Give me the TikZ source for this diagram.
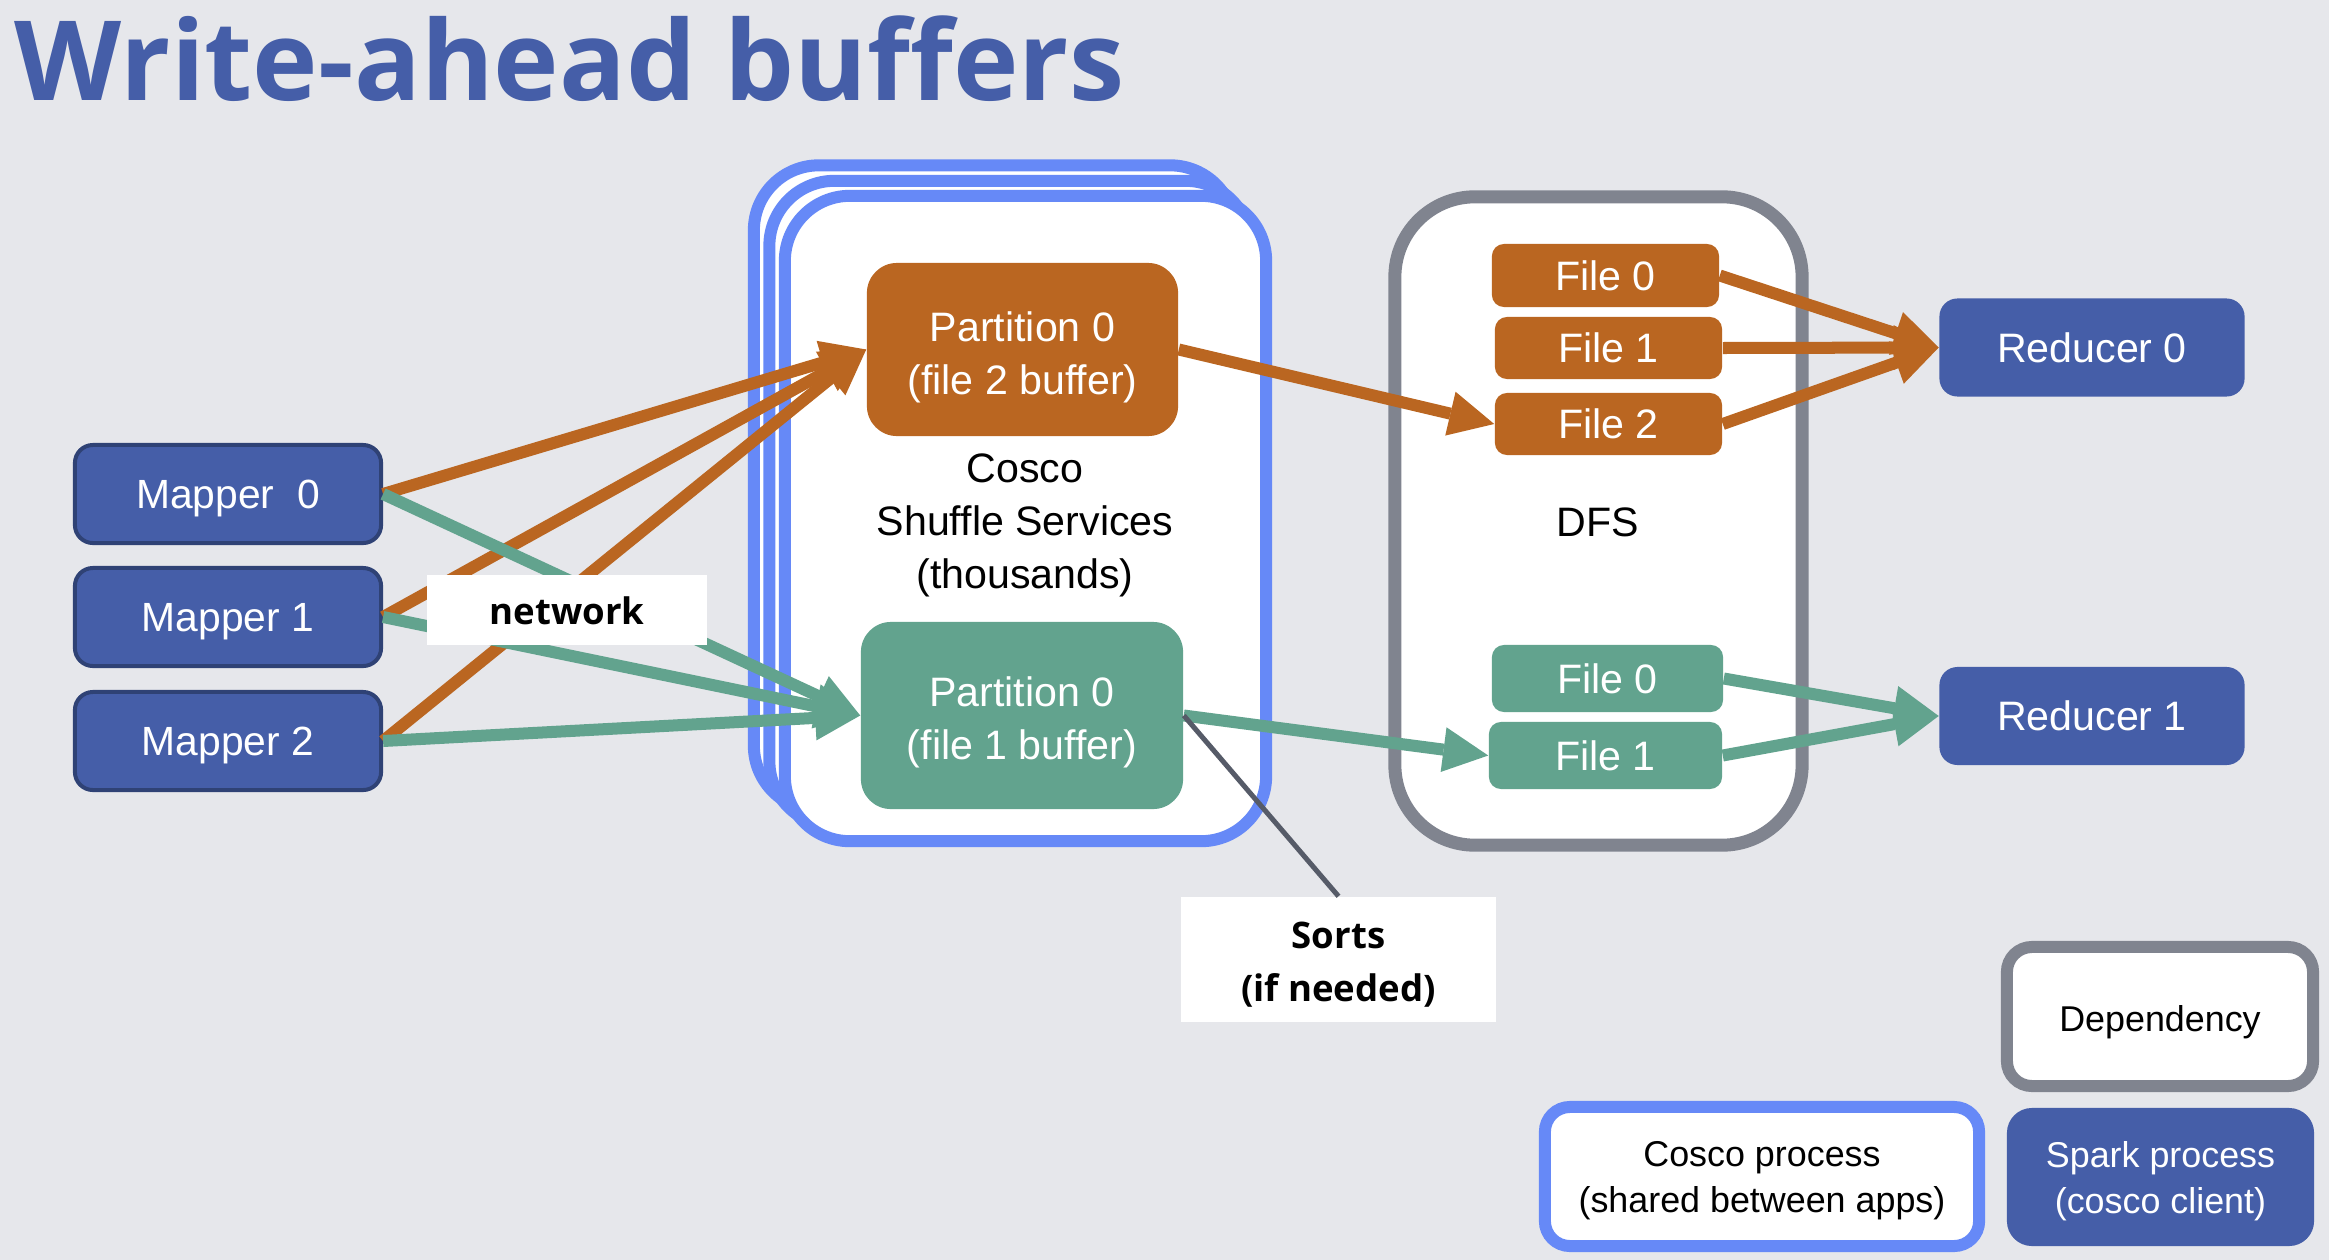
\documentclass[tikz,border=0pt]{standalone}
\usepackage{fontspec}
\setmainfont{Liberation Sans}
\newfontfamily\titlefont{Open Sans}
\usetikzlibrary{arrows.meta}
\definecolor{bgc}{HTML}{E6E7EB}
\definecolor{sparkblue}{HTML}{455EA8}
\definecolor{sparkedge}{HTML}{2F4275}
\definecolor{orng}{HTML}{BA6621}
\definecolor{grn}{HTML}{62A38E}
\definecolor{coscoblue}{HTML}{6689F7}
\definecolor{depgray}{HTML}{80848F}
\definecolor{sortline}{HTML}{565B68}
\begin{document}
\begin{tikzpicture}[x=0.01cm,y=-0.01cm,
  txt/.style={text height=1.0em, text depth=0.15em},
  spark/.style={txt, draw=sparkedge, line width=0.04cm, fill=sparkblue, rounded corners=0.18cm, text=white, inner sep=0pt, font=\fontsize{11.6}{13}\selectfont, minimum width=3.06cm, minimum height=0.98cm},
  reducer/.style={txt, fill=sparkblue, rounded corners=0.18cm, text=white, inner sep=0pt, font=\fontsize{11.7}{14}\selectfont, minimum width=3.05cm, minimum height=0.98cm},
  part/.style={rounded corners=0.3cm, inner sep=0pt},
  parttext/.style={text=white, align=center, inner sep=0pt, font=\fontsize{11.7}{15.1}\selectfont},
  filebox/.style={txt, rounded corners=0.12cm, text=white, inner sep=0pt, font=\fontsize{11.7}{14}\selectfont},
  cosco/.style={draw=coscoblue, line width=0.12cm, fill=white, rounded corners=0.65cm, minimum width=4.81cm, minimum height=6.45cm, inner sep=0pt},
  dfsframe/.style={draw=depgray, line width=0.13cm, fill=white, rounded corners=0.8cm, minimum width=4.07cm, minimum height=6.48cm, inner sep=0pt},
  lblfont/.style={font=\titlefont\bfseries\fontsize{10.4}{15.1}\selectfont},
  legtext/.style={align=center, inner sep=0pt, font=\fontsize{10.2}{13.1}\selectfont},
  orarrow/.style={orng, line width=0.12cm, -{Triangle[length=0.45cm,width=0.45cm,line width=0pt]}},
  grarrow/.style={grn, line width=0.12cm, -{Triangle[length=0.45cm,width=0.45cm,line width=0pt]}}
]
\fill[bgc] (0,0) rectangle (2329,1260);
\useasboundingbox (0,0) rectangle (2329,1260);

% title
\node[anchor=base west, text=sparkblue, inner sep=0pt, font=\titlefont\bfseries\fontsize{31.5}{31.5}\selectfont] (title) at (14,100) {Write-ahead buffers};

% cosco frames (stacked)
\node[cosco] (cback) at (994.5,488) {};
\node[cosco] (cmid) at (1010,503.5) {};
\node[cosco] (cfront) at (1025.5,518.5) {};
\node[align=center, inner sep=0pt, font=\fontsize{11.7}{15.1}\selectfont] (coscolbl) at (1025,525) {Cosco\\Shuffle Services\\(thousands)};

% DFS frame
\node[dfsframe] (dfs) at (1598.5,521) {};
\node[txt, inner sep=0pt, font=\fontsize{11.7}{14}\selectfont] (dfslbl) at (1598,522) {DFS};

% partitions
\node[part, fill=orng, minimum width=3.11cm, minimum height=1.73cm] (p2) at (1022.5,349.5) {};
\node[parttext] (p2t) at (1022.5,357.5) {Partition 0\\(file 2 buffer)};
\node[part, fill=grn, minimum width=3.22cm, minimum height=1.87cm] (p1) at (1022,715.5) {};
\node[parttext] (p1t) at (1022,722) {Partition 0\\(file 1 buffer)};

% files
\node[filebox, fill=orng, minimum width=2.27cm, minimum height=0.63cm] (f0) at (1605.5,275.5) {File 0};
\node[filebox, fill=orng, minimum width=2.27cm, minimum height=0.62cm] (f1) at (1608.5,348) {File 1};
\node[filebox, fill=orng, minimum width=2.27cm, minimum height=0.62cm] (f2) at (1608.5,424) {File 2};
\node[filebox, fill=grn, minimum width=2.31cm, minimum height=0.67cm] (g0) at (1607.5,678.5) {File 0};
\node[filebox, fill=grn, minimum width=2.33cm, minimum height=0.67cm] (g1) at (1605.5,755.5) {File 1};

% mappers and reducers
\node[spark] (m0) at (228,494) {Mapper\ \ 0};
\node[spark] (m1) at (228,617) {Mapper 1};
\node[spark] (m2) at (228,741) {Mapper 2};
\node[reducer] (r0) at (2092,347.5) {Reducer 0};
\node[reducer] (r1) at (2092,716) {Reducer 1};

% mapper arrows
\draw[orarrow] (m0.east) -- (p2.west);
\draw[orarrow] (m1.east) -- (p2.west);
\draw[orarrow] (m2.east) -- (p2.west);
\draw[grarrow] (m0.east) -- (p1.west);
\draw[grarrow] (m1.east) -- (p1.west);
\draw[grarrow] (m2.east) -- (p1.west);

% partitions to files
\draw[orarrow] (p2.east) -- (f2.west);
\draw[grarrow] (p1.east) -- (g1.west);

% files to reducers
\draw[orarrow] (f0.east) -- (r0.west);
\draw[orarrow] (f1.east) -- (r0.west);
\draw[orarrow] (f2.east) -- (r0.west);
\draw[grarrow] (g0.east) -- (r1.west);
\draw[grarrow] (g1.east) -- (r1.west);

% network label
\node[lblfont, txt, fill=white, inner sep=0pt, minimum width=2.8cm, minimum height=0.7cm] (net) at (567,610) {network};

% sorts
\node[fill=white, inner sep=0pt, minimum width=3.15cm, minimum height=1.25cm] (sorts) at (1338.5,959.5) {};
\node[lblfont, align=center, inner sep=0pt] (sortst) at (1338.5,965) {Sorts\\(if needed)};
\draw[sortline, line width=0.05cm] (p1.east) -- (sorts.north);

% legend
\node[txt, legtext, draw=depgray, line width=0.12cm, fill=white, rounded corners=0.25cm, minimum width=3.06cm, minimum height=1.39cm] (dep) at (2160,1016.5) {Dependency};
\node[draw=coscoblue, line width=0.12cm, fill=white, rounded corners=0.25cm, minimum width=4.34cm, minimum height=1.39cm, inner sep=0pt] (cosleg) at (1762,1176.5) {};
\node[legtext] (coslegt) at (1762,1181) {Cosco process\\(shared between apps)};
\node[fill=sparkblue, rounded corners=0.25cm, minimum width=3.07cm, minimum height=1.38cm, inner sep=0pt] (sparkleg) at (2160.5,1177) {};
\node[legtext, text=white] (sparklegt) at (2160.5,1181.5) {Spark process\\(cosco client)};
\end{tikzpicture}
\end{document}
